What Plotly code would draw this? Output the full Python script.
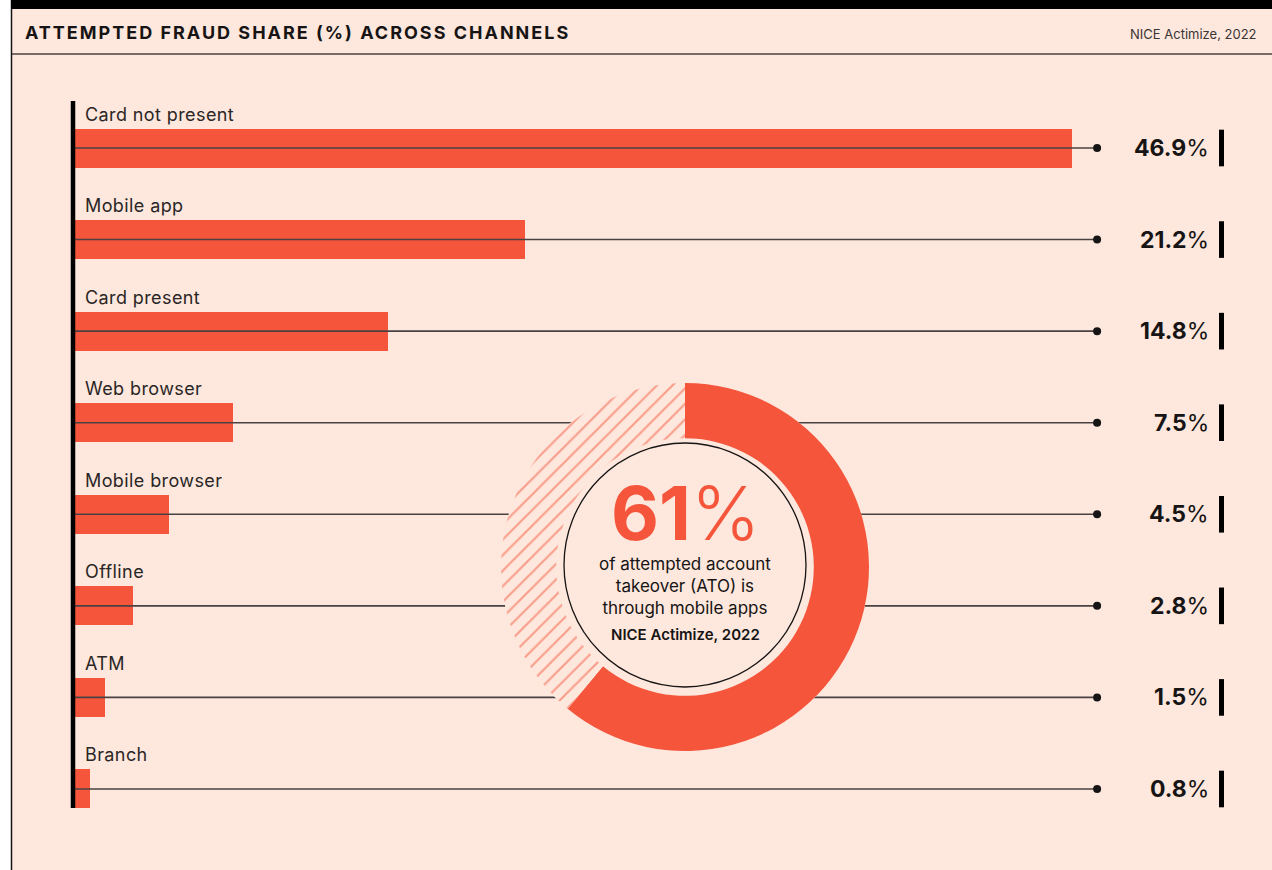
import plotly.graph_objects as go

# ---- data -------------------------------------------------------------
channels = ["Card not present", "Mobile app", "Card present", "Web browser",
            "Mobile browser", "Offline", "ATM", "Branch"]
shares = [46.9, 21.2, 14.8, 7.5, 4.5, 2.8, 1.5, 0.8]

ato_labels = ["Mobile apps", "Other channels"]
ato_shares = [61, 39]

title_text = "ATTEMPTED FRAUD SHARE (%) ACROSS CHANNELS"
source_text = "NICE Actimize, 2022"
ato_note = "of attempted account<br>takeover (ATO) is<br>through mobile apps"

# ---- styling ----------------------------------------------------------
W, H = 1272, 870
ORANGE = "#F4553B"
PEACH = "#FEE7DC"
INK = "#161414"
RULE = "#4a4242"
FONT = "Inter"

X_ORIGIN_PX = 73      # pixel position of 0 %
X_SCALE = 21.3        # pixels per percentage point
ROW0_PX = 148         # pixel centre of the first row
ROW_STEP = 91.57      # pixels between rows
LINE_END = 48.08      # where each leader line stops (axis units)


def px(x):
    return x / W


def py(y):
    return 1 - y / H


n = len(channels)
rows = list(range(n))

x_lo = -X_ORIGIN_PX / X_SCALE
x_hi = x_lo + W / X_SCALE
y_top = -ROW0_PX / ROW_STEP
y_bot = y_top + H / ROW_STEP

fig = go.Figure()

# bars
fig.add_trace(go.Bar(
    x=shares, y=rows, orientation="h", width=39 / ROW_STEP,
    marker=dict(color=ORANGE, line=dict(width=0)),
    hoverinfo="skip", showlegend=False,
))

# leader lines running through each bar
lx, ly = [], []
for i in rows:
    lx += [0, LINE_END, None]
    ly += [i, i, None]
fig.add_trace(go.Scatter(
    x=lx, y=ly, mode="lines", line=dict(color=RULE, width=1.6),
    hoverinfo="skip", showlegend=False,
))
fig.add_trace(go.Scatter(
    x=[LINE_END] * n, y=rows, mode="markers",
    marker=dict(color=INK, size=8), hoverinfo="skip", showlegend=False,
))

# donut: a solid disc masks the leader lines, then the ring on top
cx, cy, R = 685, 567, 184
dom = dict(x=[px(cx - R), px(cx + R)], y=[py(cy + R), py(cy - R)])
fig.add_trace(go.Pie(
    values=[1], labels=["bg"], domain=dom, sort=False,
    marker=dict(colors=[PEACH], line=dict(width=0)),
    textinfo="none", hoverinfo="skip", showlegend=False,
))
fig.add_trace(go.Pie(
    values=ato_shares, labels=ato_labels, domain=dom, hole=0.70,
    sort=False, direction="clockwise", rotation=0,
    marker=dict(
        colors=[ORANGE, PEACH], line=dict(width=0),
        pattern=dict(shape=["", "/"], fgcolor=ORANGE, fillmode="overlay",
                     size=11, solidity=0.2),
    ),
    textinfo="none", hoverinfo="skip", showlegend=False,
))

shapes = [
    # page panel
    dict(type="rect", xref="paper", yref="paper", x0=px(12), x1=1, y0=0, y1=1,
         fillcolor=PEACH, line=dict(width=0), layer="below"),
    dict(type="line", xref="paper", yref="paper", x0=px(11.5), x1=px(11.5),
         y0=0, y1=1, line=dict(color=INK, width=1.5), layer="below"),
    dict(type="rect", xref="paper", yref="paper", x0=px(11), x1=1,
         y0=py(9), y1=1, fillcolor="#000000", line=dict(width=0), layer="below"),
    dict(type="line", xref="paper", yref="paper", x0=px(12), x1=1,
         y0=py(54), y1=py(54), line=dict(color=RULE, width=1.5), layer="below"),
    # vertical baseline
    dict(type="line", xref="x", yref="paper", x0=0, x1=0,
         y0=py(808), y1=py(101), line=dict(color="#000000", width=4.5),
         layer="above"),
    # inner circle of the donut
    dict(type="circle", xref="paper", yref="paper",
         x0=px(cx - 121), x1=px(cx + 121), y0=py(565 + 122), y1=py(565 - 122),
         line=dict(color=INK, width=1.3), layer="above"),
]

annotations = [
    dict(text=f"<span style='letter-spacing:2px'>{title_text}</span>",
         xref="paper", yref="paper", x=px(23), y=py(32),
         xanchor="left", yanchor="middle", showarrow=False,
         font=dict(family=FONT, size=18, color=INK, weight=700)),
    dict(text=source_text, xref="paper", yref="paper", x=px(1259), y=py(34),
         xanchor="right", yanchor="middle", showarrow=False,
         font=dict(family=FONT, size=13, color="#3a3535")),
    dict(text=f"<b>{ato_shares[0]}</b><span style='font-weight:300'>%</span>",
         xref="paper", yref="paper", x=px(685), y=py(513),
         xanchor="center", yanchor="middle", showarrow=False,
         font=dict(family=FONT, size=74, color=ORANGE)),
    dict(text=ato_note, xref="paper", yref="paper", x=px(685), y=py(586),
         xanchor="center", yanchor="middle", showarrow=False,
         font=dict(family=FONT, size=17, color=INK)),
    dict(text=source_text, xref="paper", yref="paper", x=px(685), y=py(634),
         xanchor="center", yanchor="middle", showarrow=False,
         font=dict(family=FONT, size=15, color=INK, weight=600)),
]

for i, (name, val) in enumerate(zip(channels, shares)):
    annotations.append(dict(
        text=f"<span style='letter-spacing:0.4px'>{name}</span>",
        xref="x", yref="y", x=0, y=i, xshift=10, yshift=34,
        xanchor="left", yanchor="middle", showarrow=False,
        font=dict(family=FONT, size=18, color="#2a2626"),
    ))
    annotations.append(dict(
        text=f"<b>{val:.1f}</b>%", xref="paper", yref="y", x=px(1211), y=i,
        xanchor="right", yanchor="middle", showarrow=False,
        font=dict(family=FONT, size=23, color=INK),
    ))
    shapes.append(dict(
        type="rect", xref="paper", yref="y", x0=px(1219), x1=px(1224),
        y0=i - 0.2, y1=i + 0.2, fillcolor="#000000", line=dict(width=0),
        layer="above",
    ))

fig.update_layout(
    width=W, height=H, autosize=False,
    margin=dict(l=0, r=0, t=0, b=0, pad=0),
    paper_bgcolor="#FFFFFF", plot_bgcolor="rgba(0,0,0,0)",
    xaxis=dict(range=[x_lo, x_hi], visible=False, fixedrange=True),
    yaxis=dict(range=[y_bot, y_top], visible=False, fixedrange=True),
    bargap=0, shapes=shapes, annotations=annotations,
    font=dict(family=FONT),
)

fig.write_html("out.html", config={"displayModeBar": False})
